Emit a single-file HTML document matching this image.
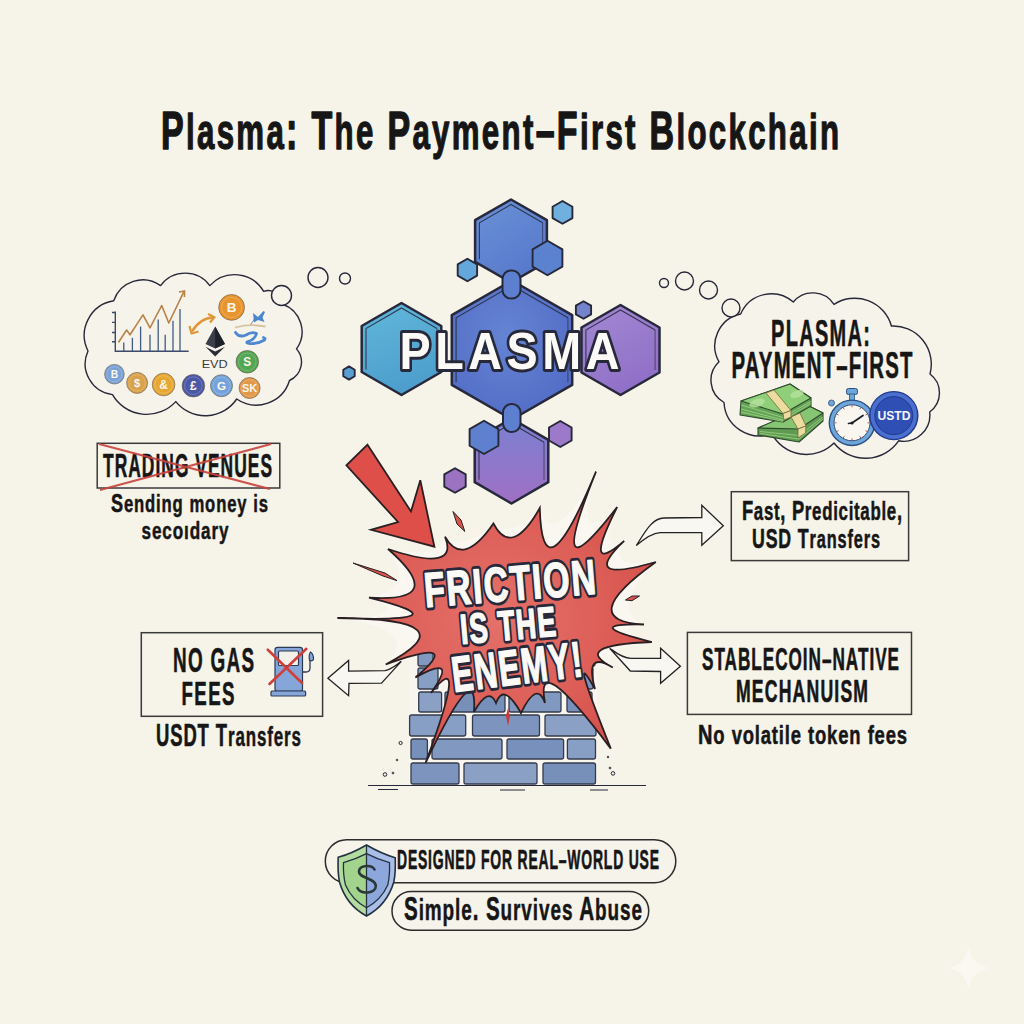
<!DOCTYPE html>
<html><head><meta charset="utf-8"><style>
html,body{margin:0;padding:0;background:#f6f3e9;overflow:hidden;}
svg{display:block;}
text{font-family:"Liberation Sans",sans-serif;font-weight:bold;}
</style></head><body>
<svg width="1024" height="1024" viewBox="0 0 1024 1024">
<rect width="1024" height="1024" fill="#f6f3e9"/>
<text transform="translate(161,148.5) scale(0.6228,1)" x="0" y="0" font-size="54.5" fill="#161616" textLength="1088.7" lengthAdjust="spacing" stroke="#161616" stroke-width="1.3" vector-effect="non-scaling-stroke" stroke-linejoin="round" >P<tspan font-size="50.14">lasma</tspan>: T<tspan font-size="50.14">he</tspan> P<tspan font-size="50.14">ayment</tspan>–F<tspan font-size="50.14">irst</tspan> B<tspan font-size="50.14">lockchain</tspan></text>
<path d="M113.7,300.8 A30.6,30.6 0 0 1 160.6,285.6 A30.5,30.5 0 0 1 209.8,285.6 A33.6,33.6 0 0 1 263.7,291.4 A13.8,13.8 0 0 1 282.0,304.0 A29.3,29.3 0 0 1 296.5,348.9 A20.1,20.1 0 0 1 289.5,380.5 A34.7,34.7 0 0 1 236.7,399.0 A37.8,37.8 0 0 1 175.8,401.6 A39.5,39.5 0 0 1 112.5,394.6 A31.0,31.0 0 0 1 88.0,351.0 A35.0,35.0 0 0 1 113.7,300.8 Z" fill="#f6f3ea" stroke="#27283a" stroke-width="1.4" stroke-linejoin="round"/>
<circle cx="281.5" cy="295.5" r="10" fill="#f6f3e9" stroke="#27283a" stroke-width="1.4"/>
<circle cx="318" cy="277.5" r="10" fill="#f6f3e9" stroke="#27283a" stroke-width="1.4"/>
<circle cx="345" cy="278.5" r="5.5" fill="#f6f3e9" stroke="#27283a" stroke-width="1.4"/>
<g stroke="#3b4a6b" stroke-width="1.4" fill="none"><path d="M115.3,311.4 V351.2 H188.7"/><path d="M112,312.5 h3.5 M112,322.4 h3.5 M112,332.5 h3.5 M112,341.8 h3.5"/></g>
<g stroke="#3f5a88" stroke-width="1.3"><line x1="123.8" y1="351" x2="123.8" y2="342.5"/><line x1="132.4" y1="351" x2="132.4" y2="337.8"/><line x1="140.6" y1="351" x2="140.6" y2="326.6"/><line x1="150" y1="351" x2="150" y2="334.8"/><line x1="158.2" y1="351" x2="158.2" y2="319.6"/><line x1="165.2" y1="351" x2="165.2" y2="334.8"/><line x1="173" y1="351" x2="173" y2="320.7"/><line x1="180" y1="351" x2="180" y2="309"/></g>
<path d="M118.4,342.5 L126.6,330 L130,334.8 L143,314.9 L150,327.8 L161.7,305.5 L168.8,323 L184,291.4" fill="none" stroke="#b98248" stroke-width="1.6" stroke-linejoin="round"/>
<path d="M179,292 L184.5,291 L184.5,297" fill="none" stroke="#b98248" stroke-width="1.6"/>
<path d="M192,331.5 Q200,318 213.5,317.5" fill="none" stroke="#e0973a" stroke-width="2.4"/><path d="M189.5,326 L191.5,333.5 L198.5,331.5 M208,314 L214.5,317.3 L210,322.5" fill="none" stroke="#e0973a" stroke-width="2.2" stroke-linejoin="round"/>
<path d="M215.2,326.6 L205.5,344 L215.2,348.6 L225,344 Z" fill="#3a3d4a"/><path d="M215.2,326.6 L215.2,348.6 L225,344 Z" fill="#1f2129"/><path d="M215.2,356.6 L205.5,346.8 L215.2,351.5 L225,346.8 Z" fill="#2a2c36"/>
<text x="214.7" y="367.6" font-size="10" fill="#3a3a3a" text-anchor="middle" textLength="26" lengthAdjust="spacingAndGlyphs" style="font-weight:normal">EVD</text>
<circle cx="231.6" cy="307.4" r="12.9" fill="#e8952e" stroke="#6b5a48" stroke-width="0.9" stroke-opacity="0.7"/><circle cx="231.6" cy="307.4" r="10.1" fill="none" stroke="#ffffff" stroke-opacity="0.25" stroke-width="0.8"/><text x="231.6" y="312.0" font-size="13.5" fill="#fbf6ea" text-anchor="middle">B</text>
<circle cx="247.3" cy="361.8" r="11.3" fill="#53a653" stroke="#6b5a48" stroke-width="0.9" stroke-opacity="0.7"/><circle cx="247.3" cy="361.8" r="8.8" fill="none" stroke="#ffffff" stroke-opacity="0.25" stroke-width="0.8"/><text x="247.3" y="365.9" font-size="11.9" fill="#fbf6ea" text-anchor="middle">S</text>
<circle cx="114.4" cy="374.2" r="9.8" fill="#79a2d6" stroke="#6b5a48" stroke-width="0.9" stroke-opacity="0.7"/><circle cx="114.4" cy="374.2" r="7.6" fill="none" stroke="#ffffff" stroke-opacity="0.25" stroke-width="0.8"/><text x="114.4" y="377.7" font-size="10.3" fill="#fbf6ea" text-anchor="middle">B</text>
<circle cx="137.1" cy="382.9" r="10.5" fill="#d9a24c" stroke="#6b5a48" stroke-width="0.9" stroke-opacity="0.7"/><circle cx="137.1" cy="382.9" r="8.2" fill="none" stroke="#ffffff" stroke-opacity="0.25" stroke-width="0.8"/><text x="137.1" y="386.7" font-size="11.0" fill="#fbf6ea" text-anchor="middle">$</text>
<circle cx="163.6" cy="384.5" r="11.3" fill="#e6a833" stroke="#6b5a48" stroke-width="0.9" stroke-opacity="0.7"/><circle cx="163.6" cy="384.5" r="8.8" fill="none" stroke="#ffffff" stroke-opacity="0.25" stroke-width="0.8"/><text x="163.6" y="388.6" font-size="11.9" fill="#fbf6ea" text-anchor="middle">&amp;</text>
<circle cx="193.4" cy="385.7" r="11.3" fill="#4b58a6" stroke="#6b5a48" stroke-width="0.9" stroke-opacity="0.7"/><circle cx="193.4" cy="385.7" r="8.8" fill="none" stroke="#ffffff" stroke-opacity="0.25" stroke-width="0.8"/><text x="193.4" y="389.8" font-size="11.9" fill="#fbf6ea" text-anchor="middle">£</text>
<circle cx="221.5" cy="385.7" r="11" fill="#73a3da" stroke="#6b5a48" stroke-width="0.9" stroke-opacity="0.7"/><circle cx="221.5" cy="385.7" r="8.6" fill="none" stroke="#ffffff" stroke-opacity="0.25" stroke-width="0.8"/><text x="221.5" y="389.7" font-size="11.6" fill="#fbf6ea" text-anchor="middle">G</text>
<circle cx="249.6" cy="388" r="10.5" fill="#e2984a" stroke="#6b5a48" stroke-width="0.9" stroke-opacity="0.7"/><circle cx="249.6" cy="388" r="8.2" fill="none" stroke="#ffffff" stroke-opacity="0.25" stroke-width="0.8"/><text x="249.6" y="391.8" font-size="11.0" fill="#fbf6ea" text-anchor="middle">SK</text>
<polygon points="253,313 258,317 263.5,311 265,312 262.5,317.5 264.5,322 258,320 254,322.5" fill="#4a86d0"/><path d="M250,325.5 L254.5,319" stroke="#6a6a6a" stroke-width="0.8"/><path d="M235,327.5 Q250,323.5 265.5,326.5" fill="none" stroke="#d6c3a2" stroke-width="1.8"/><path d="M235.5,332.5 Q239,338 246,335 Q252,331 256.5,333.5 Q255,339.5 248,341.5 Q245,343 250,343.5 Q258,344 264.5,340 Q266,338 263.5,337.5" fill="none" stroke="#4f88d0" stroke-width="2.8" stroke-linecap="round" stroke-linejoin="round"/>
<path d="M740.7,314.0 A33.4,33.4 0 0 1 793.3,302.0 A25.3,25.3 0 0 1 834.0,304.4 A38.0,38.0 0 0 1 891.4,326.0 A38.2,38.2 0 0 1 930.0,374.0 A23.6,23.6 0 0 1 929.7,412.0 A26.3,26.3 0 0 1 898.6,440.8 A40.1,40.1 0 0 1 834.0,443.0 A39.0,39.0 0 0 1 771.8,433.6 A35.4,35.4 0 0 1 724.0,402.5 A25.4,25.4 0 0 1 719.0,361.8 A32.5,32.5 0 0 1 740.7,314.0 Z" fill="#f6f3ea" stroke="#27283a" stroke-width="1.4" stroke-linejoin="round"/>
<circle cx="664" cy="283" r="4.5" fill="#f6f3e9" stroke="#27283a" stroke-width="1.4"/>
<circle cx="684.5" cy="281" r="9" fill="#f6f3e9" stroke="#27283a" stroke-width="1.4"/>
<circle cx="708.5" cy="290" r="9" fill="#f6f3e9" stroke="#27283a" stroke-width="1.4"/>
<circle cx="731" cy="308" r="9" fill="#f6f3e9" stroke="#27283a" stroke-width="1.4"/>
<text transform="translate(771,345.5) scale(0.5290,1)" x="0" y="0" font-size="37.8" fill="#161616" textLength="187.2" lengthAdjust="spacing" stroke="#161616" stroke-width="0.5" vector-effect="non-scaling-stroke" stroke-linejoin="round" >PLASMA:</text>
<text transform="translate(731.5,378) scale(0.5451,1)" x="0" y="0" font-size="37.4" fill="#161616" textLength="332.0" lengthAdjust="spacing" stroke="#161616" stroke-width="0.5" vector-effect="non-scaling-stroke" stroke-linejoin="round" >PAYMENT–FIRST</text>
<polygon points="758,428 809,406 823,413 823,421 799,442 758,435" fill="#5f9c51" stroke="#2e4a2c" stroke-width="1.1" stroke-linejoin="round"/>
<polygon points="758,428 809,406 823,413 799,429" fill="#86c571" stroke="#2e4a2c" stroke-width="1.1" stroke-linejoin="round"/>
<path d="M760,431.5 L799,435.5 L823,417 M760,433.5 L799,439 L823,419" fill="none" stroke="#9ed288" stroke-width="0.8"/>
<polygon points="741,401 790,384 811,398 811,406 783,422 740,415" fill="#64a355" stroke="#2e4a2c" stroke-width="1.1" stroke-linejoin="round"/>
<polygon points="741,401 790,384 811,398 783,414" fill="#8fcf7a" stroke="#2e4a2c" stroke-width="1.1" stroke-linejoin="round"/>
<path d="M741,405 L783,417.5 L811,401.5 M741,409 L783,420 L811,403.5 M741,412 L783,421.5" fill="none" stroke="#a2d68c" stroke-width="0.8"/>
<ellipse cx="757" cy="403" rx="8" ry="4" fill="#b5e09e" opacity="0.8" transform="rotate(-18 757 403)"/><ellipse cx="797" cy="394" rx="7" ry="3.5" fill="#b5e09e" opacity="0.8" transform="rotate(-18 797 394)"/>
<g fill="#ecdca0" stroke="#6f6a3a" stroke-width="0.8" stroke-linejoin="round"><polygon points="766,393 774,390 791,410.5 783,413.5"/><polygon points="783,413.5 791,410.5 791,417 784,420"/><polygon points="791,417 800,413 806,426 798,429"/><polygon points="798,429 806,426 805.5,433 798,438"/></g>
<circle cx="852" cy="422.8" r="22.7" fill="#6ea6d9" stroke="#2c4f80" stroke-width="1.4"/><circle cx="852" cy="422.8" r="18" fill="#f8f6ef" stroke="#2c4f80" stroke-width="1"/><rect x="846.5" y="388.5" width="11" height="6" rx="2" fill="#6ea6d9" stroke="#2c4f80" stroke-width="1"/><rect x="849.5" y="394" width="5" height="6" fill="#6ea6d9" stroke="#2c4f80" stroke-width="0.8"/><circle cx="831.5" cy="403" r="3" fill="#6ea6d9" stroke="#2c4f80" stroke-width="0.8"/><path d="M852,423 L863,415.5 M852,423 L848.5,423.5" stroke="#1c1c24" stroke-width="1.7" stroke-linecap="round"/><circle cx="852" cy="423" r="1.6" fill="#1c1c24"/><line x1="867.5" y1="422.8" x2="869.5" y2="422.8" stroke="#c04a40" stroke-width="0.9"/><line x1="865.4" y1="430.6" x2="867.2" y2="431.6" stroke="#c04a40" stroke-width="0.9"/><line x1="859.8" y1="436.2" x2="860.8" y2="438.0" stroke="#c04a40" stroke-width="0.9"/><line x1="852.0" y1="438.3" x2="852.0" y2="440.3" stroke="#c04a40" stroke-width="0.9"/><line x1="844.2" y1="436.2" x2="843.2" y2="438.0" stroke="#c04a40" stroke-width="0.9"/><line x1="838.6" y1="430.6" x2="836.8" y2="431.6" stroke="#c04a40" stroke-width="0.9"/><line x1="836.5" y1="422.8" x2="834.5" y2="422.8" stroke="#c04a40" stroke-width="0.9"/><line x1="838.6" y1="415.1" x2="836.8" y2="414.1" stroke="#c04a40" stroke-width="0.9"/><line x1="844.2" y1="409.4" x2="843.2" y2="407.6" stroke="#c04a40" stroke-width="0.9"/><line x1="852.0" y1="407.3" x2="852.0" y2="405.3" stroke="#c04a40" stroke-width="0.9"/><line x1="859.8" y1="409.4" x2="860.8" y2="407.6" stroke="#c04a40" stroke-width="0.9"/><line x1="865.4" y1="415.1" x2="867.2" y2="414.1" stroke="#c04a40" stroke-width="0.9"/>
<circle cx="893.8" cy="415.6" r="24" fill="#4a6fcf" stroke="#233a8a" stroke-width="1.4"/><circle cx="893.8" cy="415.6" r="19" fill="#2f4fb5" stroke="#203a8f" stroke-width="1"/>
<text x="894" y="420" font-size="12.2" fill="#f4f4fa" text-anchor="middle" textLength="33" lengthAdjust="spacingAndGlyphs" >USTD</text>
<defs><linearGradient id="gt" x1="0.2" y1="0" x2="0.8" y2="1"><stop offset="0" stop-color="#6890d6"/><stop offset="1" stop-color="#5676ca"/></linearGradient><linearGradient id="gl" x1="0.3" y1="0" x2="0.6" y2="1"><stop offset="0" stop-color="#5fb6da"/><stop offset="1" stop-color="#4c9ccb"/></linearGradient><radialGradient id="gc" cx="0.45" cy="0.4" r="0.65"><stop offset="0" stop-color="#6584d3"/><stop offset="1" stop-color="#526cc6"/></radialGradient><linearGradient id="gr" x1="0.2" y1="0" x2="0.7" y2="1"><stop offset="0" stop-color="#a287d3"/><stop offset="1" stop-color="#8e6ec6"/></linearGradient></defs>
<polygon points="511.0,199.5 546.9,220.2 546.9,261.8 511.0,282.5 475.1,261.8 475.1,220.2" fill="url(#gt)" stroke="#27283a" stroke-width="2.5" stroke-linejoin="round"/><polyline points="479.4,259.2 479.4,222.8 511.0,204.5 542.6,222.8" fill="none" stroke="#27283a" stroke-width="1.1" opacity="0.85"/><polyline points="542.6,222.8 542.6,259.2" fill="none" stroke="#27283a" stroke-width="1.1" opacity="0.6"/>
<polygon points="562.5,201.0 572.4,206.7 572.4,218.1 562.5,223.8 552.6,218.1 552.6,206.7" fill="#70b0de" stroke="#27283a" stroke-width="1.9" stroke-linejoin="round"/>
<polygon points="547.5,240.8 562.4,249.4 562.4,266.6 547.5,275.2 532.6,266.6 532.6,249.4" fill="#5b82cf" stroke="#27283a" stroke-width="1.9" stroke-linejoin="round"/>
<polygon points="467.4,258.8 477.1,264.4 477.1,275.6 467.4,281.2 457.7,275.6 457.7,264.4" fill="#64a7da" stroke="#27283a" stroke-width="1.9" stroke-linejoin="round"/>
<polygon points="401.5,303.0 441.3,326.0 441.3,372.0 401.5,395.0 361.7,372.0 361.7,326.0" fill="url(#gl)" stroke="#27283a" stroke-width="2.5" stroke-linejoin="round"/><polyline points="366.0,369.5 366.0,328.5 401.5,308.0 437.0,328.5" fill="none" stroke="#27283a" stroke-width="1.1" opacity="0.85"/><polyline points="437.0,328.5 437.0,369.5" fill="none" stroke="#27283a" stroke-width="1.1" opacity="0.6"/>
<polygon points="620.5,305.0 659.5,327.5 659.5,372.5 620.5,395.0 581.5,372.5 581.5,327.5" fill="url(#gr)" stroke="#27283a" stroke-width="2.5" stroke-linejoin="round"/><polyline points="585.9,370.0 585.9,330.0 620.5,310.0 655.1,330.0" fill="none" stroke="#27283a" stroke-width="1.1" opacity="0.85"/><polyline points="655.1,330.0 655.1,370.0" fill="none" stroke="#27283a" stroke-width="1.1" opacity="0.6"/>
<polygon points="512.0,280.5 572.2,315.2 572.2,384.8 512.0,419.5 451.8,384.8 451.8,315.2" fill="url(#gc)" stroke="#27283a" stroke-width="2.5" stroke-linejoin="round"/><polyline points="456.1,382.2 456.1,317.8 512.0,285.5 567.9,317.8" fill="none" stroke="#27283a" stroke-width="1.1" opacity="0.85"/><polyline points="567.9,317.8 567.9,382.2" fill="none" stroke="#27283a" stroke-width="1.1" opacity="0.6"/>
<polygon points="583.5,301.2 591.1,305.6 591.1,314.4 583.5,318.8 575.9,314.4 575.9,305.6" fill="#7384cc" stroke="#27283a" stroke-width="1.9" stroke-linejoin="round"/>
<polygon points="349.0,366.4 354.7,369.7 354.7,376.3 349.0,379.6 343.3,376.3 343.3,369.7" fill="#5b9fd2" stroke="#27283a" stroke-width="1.9" stroke-linejoin="round"/>
<defs><linearGradient id="gb" x1="0" y1="0" x2="0" y2="1"><stop offset="0" stop-color="#7a80d2"/><stop offset="1" stop-color="#a070c4"/></linearGradient></defs>
<polygon points="511.5,418.5 548.3,439.8 548.3,482.2 511.5,503.5 474.7,482.2 474.7,439.8" fill="url(#gb)" stroke="#27283a" stroke-width="2.5" stroke-linejoin="round"/><polyline points="479.0,479.8 479.0,442.2 511.5,423.5 544.0,442.2" fill="none" stroke="#27283a" stroke-width="1.1" opacity="0.85"/><polyline points="544.0,442.2 544.0,479.8" fill="none" stroke="#27283a" stroke-width="1.1" opacity="0.6"/>
<polygon points="484.0,420.8 498.4,429.1 498.4,445.7 484.0,454.0 469.6,445.7 469.6,429.1" fill="#5e80cf" stroke="#27283a" stroke-width="1.9" stroke-linejoin="round"/>
<polygon points="560.3,421.0 571.6,427.5 571.6,440.5 560.3,447.0 549.0,440.5 549.0,427.5" fill="#9d79c9" stroke="#27283a" stroke-width="1.9" stroke-linejoin="round"/>
<polygon points="455.0,468.2 465.7,474.4 465.7,486.6 455.0,492.8 444.3,486.6 444.3,474.4" fill="#9c73c3" stroke="#27283a" stroke-width="1.9" stroke-linejoin="round"/>
<rect x="502.5" y="270.5" width="18" height="28" rx="8.5" fill="#5d7fcf" stroke="#27283a" stroke-width="2"/>
<rect x="503" y="404" width="17.5" height="28" rx="8.5" fill="#5d7fcf" stroke="#27283a" stroke-width="2"/>
<text transform="translate(399.5,368.5) scale(0.89,1)" x="0" y="0" font-size="52.5" fill="#fbfaf6" textLength="247.2" lengthAdjust="spacing" stroke="#27283a" stroke-width="5.6" vector-effect="non-scaling-stroke" paint-order="stroke" stroke-linejoin="round">PLASMA</text>
<path d="M388.0,549.0 Q440.1,559.5 445.0,536.7 Q465.7,550.9 493.4,523.4 Q513.7,539.1 539.8,508.0 Q553.7,551.6 596.0,471.7 Q571.8,551.7 617.2,507.0 Q599.0,553.7 624.2,540.9 Q605.9,569.7 655.8,562.0 Q608.0,608.4 644.0,624.5 Q609.3,627.9 651.8,642.0 Q597.9,649.5 612.8,667.5 Q593.0,662.6 595.0,689.0 Q583.2,675.0 610.8,748.6 Q553.8,682.0 545.0,703.0 Q535.2,692.6 521.0,713.0 Q505.8,693.7 496.0,703.0 Q487.2,695.4 474.0,711.8 Q465.2,690.8 425.6,762.8 Q451.1,681.8 431.0,693.0 Q443.2,667.4 415.4,677.4 Q436.2,651.5 385.7,664.5 Q422.8,628.9 337.4,618.0 Q417.6,616.0 369.0,597.6 Q417.5,589.5 388.0,549.0 Z" fill="#f9f7f0"/>
<rect x="409" y="652" width="188" height="133" fill="#f8f6ef"/>
<rect x="418" y="652" width="15" height="14" rx="2" fill="#8199c1" stroke="#353b4c" stroke-width="1.3"/>
<rect x="578" y="652" width="17" height="14" rx="2" fill="#7891bc" stroke="#353b4c" stroke-width="1.3"/>
<rect x="418" y="668" width="20" height="21" rx="2" fill="#889fc5" stroke="#353b4c" stroke-width="1.3"/>
<rect x="576" y="668" width="17" height="21" rx="2" fill="#7d95be" stroke="#353b4c" stroke-width="1.3"/>
<rect x="418.7" y="692" width="22.900000000000034" height="20" rx="2" fill="#8aa0c5" stroke="#353b4c" stroke-width="1.3"/>
<rect x="445" y="692" width="60" height="20" rx="2" fill="#7690ba" stroke="#353b4c" stroke-width="1.3"/>
<rect x="509" y="692" width="52" height="20" rx="2" fill="#8199c1" stroke="#353b4c" stroke-width="1.3"/>
<rect x="567" y="692" width="25" height="20" rx="2" fill="#7891bc" stroke="#353b4c" stroke-width="1.3"/>
<rect x="409.6" y="715" width="56.099999999999966" height="21" rx="2" fill="#889fc5" stroke="#353b4c" stroke-width="1.3"/>
<rect x="472.5" y="715" width="67.0" height="21" rx="2" fill="#7d95be" stroke="#353b4c" stroke-width="1.3"/>
<rect x="545" y="715" width="51" height="21" rx="2" fill="#8aa0c5" stroke="#353b4c" stroke-width="1.3"/>
<rect x="411" y="739" width="16.399999999999977" height="20" rx="2" fill="#7690ba" stroke="#353b4c" stroke-width="1.3"/>
<rect x="432" y="739" width="70" height="20" rx="2" fill="#8199c1" stroke="#353b4c" stroke-width="1.3"/>
<rect x="507" y="739" width="56.60000000000002" height="20" rx="2" fill="#7891bc" stroke="#353b4c" stroke-width="1.3"/>
<rect x="567.4" y="739" width="28.100000000000023" height="20" rx="2" fill="#889fc5" stroke="#353b4c" stroke-width="1.3"/>
<rect x="411" y="763" width="48" height="21" rx="2" fill="#7d95be" stroke="#353b4c" stroke-width="1.3"/>
<rect x="464" y="763" width="73" height="21" rx="2" fill="#8aa0c5" stroke="#353b4c" stroke-width="1.3"/>
<rect x="543" y="763" width="52.5" height="21" rx="2" fill="#7690ba" stroke="#353b4c" stroke-width="1.3"/>
<path d="M368,785.5 H646 M378,789.5 h20 M500,790 h25 M590,790 h18" stroke="#27283a" stroke-width="1.2"/>
<circle cx="400.6" cy="743" r="1.6" fill="none" stroke="#27283a" stroke-width="1"/>
<circle cx="385" cy="774.5" r="1.8" fill="none" stroke="#27283a" stroke-width="1"/>
<circle cx="613" cy="773.4" r="1.8" fill="none" stroke="#27283a" stroke-width="1"/>
<circle cx="393" cy="773" r="0.9" fill="none" stroke="#27283a" stroke-width="1"/>
<circle cx="397" cy="760" r="0.8" fill="none" stroke="#27283a" stroke-width="1"/>
<circle cx="608" cy="757" r="0.8" fill="none" stroke="#27283a" stroke-width="1"/>
<circle cx="610" cy="768" r="0.9" fill="none" stroke="#27283a" stroke-width="1"/>
<defs><radialGradient id="rg" cx="0.5" cy="0.5" r="0.55"><stop offset="0" stop-color="#e4716a"/><stop offset="0.6" stop-color="#dd5f58"/><stop offset="1" stop-color="#d4504a"/></radialGradient></defs>
<path d="M388.0,549.0 Q459.5,573.1 445.0,536.7 Q462.8,568.0 493.4,523.4 Q511.4,558.3 539.8,508.0 Q542.1,602.1 596.0,471.7 Q543.4,602.6 617.2,507.0 Q581.3,578.0 624.2,540.9 Q578.0,584.5 655.8,562.0 Q573.7,620.8 644.0,624.5 Q577.7,623.5 651.8,642.0 Q569.7,645.2 612.8,667.5 Q584.1,649.8 595.0,689.0 Q567.1,639.2 610.8,748.6 Q534.1,646.2 545.0,703.0 Q537.0,680.0 521.0,713.0 Q503.5,682.0 496.0,703.0 Q489.0,685.6 474.0,711.8 Q477.8,652.7 425.6,762.8 Q469.7,644.1 431.0,693.0 Q459.6,652.8 415.4,677.4 Q465.5,635.6 385.7,664.5 Q472.9,618.8 337.4,618.0 Q470.2,622.8 369.0,597.6 Q449.5,602.7 388.0,549.0 Z" fill="url(#rg)" stroke="#2a1f22" stroke-width="1.8" stroke-linejoin="miter" stroke-miterlimit="4"/>
<polygon points="353,563 385,573 397,580.6 383,576" fill="#d9534f" stroke="#2a1f22" stroke-width="1"/>
<polygon points="453,511.5 461,520 464.8,531.4 457,524" fill="#d9534f" stroke="#2a1f22" stroke-width="1"/>
<polygon points="625.4,600 632,596 639.5,596 632,600.7" fill="#d9534f" stroke="#2a1f22" stroke-width="1"/>
<polygon points="508,708 510,716 508,726 506,716" fill="#c83a36"/>
<polygon points="367.5,444.7 411,511.5 420.3,480.3 434.4,546.7 371,529.8 398,522 346.4,465.3" fill="#dd4f48" stroke="#2a1f22" stroke-width="1.8" stroke-linejoin="miter"/>
<g transform="rotate(-4.6 510 585) translate(424,600.5) scale(0.6914,1)"><text x="0" y="0" font-size="49" textLength="248.8" lengthAdjust="spacing" fill="#27283a" stroke="#27283a" stroke-width="6.0" vector-effect="non-scaling-stroke" stroke-linejoin="round">FRICTION</text><text x="0" y="0" font-size="49" textLength="248.8" lengthAdjust="spacing" fill="#fbfaf6" stroke="#fbfaf6" stroke-width="1.2" vector-effect="non-scaling-stroke" stroke-linejoin="round">FRICTION</text></g>
<g transform="rotate(-5 507 626) translate(460,640) scale(0.6596,1)"><text x="0" y="0" font-size="42" textLength="145.5" lengthAdjust="spacing" fill="#27283a" stroke="#27283a" stroke-width="6.0" vector-effect="non-scaling-stroke" stroke-linejoin="round">IS THE</text><text x="0" y="0" font-size="42" textLength="145.5" lengthAdjust="spacing" fill="#fbfaf6" stroke="#fbfaf6" stroke-width="1.2" vector-effect="non-scaling-stroke" stroke-linejoin="round">IS THE</text></g>
<g transform="rotate(-7 517 664) translate(451,684) scale(0.6265,1)"><text x="0" y="0" font-size="50" textLength="209.1" lengthAdjust="spacing" fill="#27283a" stroke="#27283a" stroke-width="6.0" vector-effect="non-scaling-stroke" stroke-linejoin="round">ENEMY!</text><text x="0" y="0" font-size="50" textLength="209.1" lengthAdjust="spacing" fill="#fbfaf6" stroke="#fbfaf6" stroke-width="1.2" vector-effect="non-scaling-stroke" stroke-linejoin="round">ENEMY!</text></g>
<path d="M636.3,545.6 C645,532 652,518 664,518 L701.8,517.5 L701.8,505.3 L723.3,525.8 L701.8,545.3 L701.8,532.6 L660,532.6 C652,533 645,538 636.3,545.6 Z" fill="#f9f7f1" stroke="#222" stroke-width="1.3" stroke-linejoin="miter"/>
<path d="M609.7,648.2 C615,652 622,658.3 631,658.3 L660.6,658.3 L660.6,648.2 L680.4,666.2 L660.6,683.3 L660.6,671.5 L630.3,671 Z" fill="#f9f7f1" stroke="#222" stroke-width="1.3" stroke-linejoin="miter"/>
<path d="M327.9,678.3 L348.6,660.4 L348.6,671.1 L385,670.7 C392,669 396,665 401.3,661.4 L381.5,683.2 L349,683.4 L348.6,695.7 Z" fill="#f9f7f1" stroke="#222" stroke-width="1.3" stroke-linejoin="miter"/>
<rect x="97.2" y="443.3" width="182.60000000000002" height="44.69999999999999" fill="none" stroke="#3a3a3a" stroke-width="1.5"/>
<text transform="translate(103,477.3) scale(0.5267,1)" x="0" y="0" font-size="33" fill="#161616" textLength="320.9" lengthAdjust="spacing" stroke="#161616" stroke-width="0.5" vector-effect="non-scaling-stroke" stroke-linejoin="round" >TRADING VENUES</text>
<path d="M99,444 L270,489 M100,490 L271,444" stroke="#c9433e" stroke-width="2.2" opacity="0.9"/>
<text transform="translate(111,511.6) scale(0.6839,1)" x="0" y="0" font-size="26.5" fill="#161616" textLength="229.6" lengthAdjust="spacing" stroke="#161616" stroke-width="0.5" vector-effect="non-scaling-stroke" stroke-linejoin="round" >S<tspan font-size="24.38">ending</tspan> <tspan font-size="24.38">money</tspan> <tspan font-size="24.38">is</tspan></text>
<text transform="translate(141.5,538.5) scale(0.7031,1)" x="0" y="0" font-size="26.5" fill="#161616" textLength="123.7" lengthAdjust="spacing" stroke="#161616" stroke-width="0.5" vector-effect="non-scaling-stroke" stroke-linejoin="round" ><tspan font-size="24.38">secoıdary</tspan></text>
<rect x="141.3" y="632.7" width="181.3" height="83.59999999999991" fill="none" stroke="#3a3a3a" stroke-width="1.5"/>
<text transform="translate(173,672.4) scale(0.5397,1)" x="0" y="0" font-size="35" fill="#161616" textLength="150.1" lengthAdjust="spacing" stroke="#161616" stroke-width="0.5" vector-effect="non-scaling-stroke" stroke-linejoin="round" >NO GAS</text>
<text transform="translate(181.5,705) scale(0.5491,1)" x="0" y="0" font-size="34" fill="#161616" textLength="96.5" lengthAdjust="spacing" stroke="#161616" stroke-width="0.5" vector-effect="non-scaling-stroke" stroke-linejoin="round" >FEES</text>
<text transform="translate(156,746) scale(0.6040,1)" x="0" y="0" font-size="30.5" fill="#161616" textLength="240.1" lengthAdjust="spacing" stroke="#161616" stroke-width="0.5" vector-effect="non-scaling-stroke" stroke-linejoin="round" >USDT T<tspan font-size="28.06">ransfers</tspan></text>
<g stroke="#2b3a55" stroke-width="1.2"><rect x="275" y="647.4" width="27.5" height="44" rx="2.5" fill="#86a6da"/><rect x="278.5" y="651" width="20" height="14.5" rx="1" fill="#f3f1ea"/><rect x="271" y="691" width="34.6" height="5" rx="1" fill="#86a6da"/><path d="M302.5,672 h3.5 q4,0 4,-4 v-8" fill="none" stroke-width="1.3"/><path d="M309.5,660 q-1,-5 1,-8 q3,2 3,7 q-1,3 -4,1 z" fill="#86a6da"/></g><path d="M267.8,649.7 L302,683 M306.4,648.8 L269.5,684" stroke="#d0403a" stroke-width="2.6" stroke-linecap="round"/>
<rect x="731.3" y="491.7" width="177.30000000000007" height="68.90000000000003" fill="none" stroke="#3a3a3a" stroke-width="1.5"/>
<text transform="translate(742,520.4) scale(0.6779,1)" x="0" y="0" font-size="27" fill="#161616" textLength="236.0" lengthAdjust="spacing" stroke="#161616" stroke-width="0.5" vector-effect="non-scaling-stroke" stroke-linejoin="round" >F<tspan font-size="24.84">ast</tspan>, P<tspan font-size="24.84">redicitable</tspan>,</text>
<text transform="translate(752,548) scale(0.6343,1)" x="0" y="0" font-size="28" fill="#161616" textLength="201.8" lengthAdjust="spacing" stroke="#161616" stroke-width="0.5" vector-effect="non-scaling-stroke" stroke-linejoin="round" >USD T<tspan font-size="25.76">ransfers</tspan></text>
<rect x="687.4" y="632.4" width="224.10000000000002" height="82.0" fill="none" stroke="#3a3a3a" stroke-width="1.5"/>
<text transform="translate(702,670) scale(0.5529,1)" x="0" y="0" font-size="31" fill="#161616" textLength="356.3" lengthAdjust="spacing" stroke="#161616" stroke-width="0.5" vector-effect="non-scaling-stroke" stroke-linejoin="round" >STABLECOIN–NATIVE</text>
<text transform="translate(736,702) scale(0.5687,1)" x="0" y="0" font-size="31" fill="#161616" textLength="232.1" lengthAdjust="spacing" stroke="#161616" stroke-width="0.5" vector-effect="non-scaling-stroke" stroke-linejoin="round" >MECHANUISM</text>
<text transform="translate(698,743.7) scale(0.7297,1)" x="0" y="0" font-size="27.5" fill="#161616" textLength="286.4" lengthAdjust="spacing" stroke="#161616" stroke-width="0.5" vector-effect="non-scaling-stroke" stroke-linejoin="round" >N<tspan font-size="25.30">o</tspan> <tspan font-size="25.30">volatile</tspan> <tspan font-size="25.30">token</tspan> <tspan font-size="25.30">fees</tspan></text>
<rect x="325.3" y="839.8" width="350.5" height="42.9" rx="21.4" fill="#f6f3ea" stroke="#2c2c2c" stroke-width="1.5"/>
<rect x="392" y="891.5" width="256.7" height="38.7" rx="19.3" fill="#f6f3ea" stroke="#2c2c2c" stroke-width="1.5"/>
<text transform="translate(397,869.4) scale(0.5225,1)" x="0" y="0" font-size="26.7" fill="#161616" textLength="501.5" lengthAdjust="spacing" stroke="#161616" stroke-width="0.5" vector-effect="non-scaling-stroke" stroke-linejoin="round" >DESIGNED FOR REAL–WORLD USE</text>
<text transform="translate(404,919.5) scale(0.6245,1)" x="0" y="0" font-size="33" fill="#161616" textLength="381.1" lengthAdjust="spacing" stroke="#161616" stroke-width="0.5" vector-effect="non-scaling-stroke" stroke-linejoin="round" >S<tspan font-size="30.36">imple</tspan>. S<tspan font-size="30.36">urvives</tspan> A<tspan font-size="30.36">buse</tspan></text>
<defs><clipPath id="sl"><rect x="330" y="840" width="36.5" height="80"/></clipPath><clipPath id="sr"><rect x="366.5" y="840" width="40" height="80"/></clipPath></defs>
<path d="M366.5,845 Q352,853.5 338.2,857.3 Q337.5,872 339.5,882 Q346,905 366.5,916 Q387,905 393.8,882 Q395.8,872 395.2,857.7 Q381,853.5 366.5,845 Z" fill="#b3dc9f" clip-path="url(#sl)"/><path d="M366.5,845 Q352,853.5 338.2,857.3 Q337.5,872 339.5,882 Q346,905 366.5,916 Q387,905 393.8,882 Q395.8,872 395.2,857.7 Q381,853.5 366.5,845 Z" fill="#a9bfe8" clip-path="url(#sr)"/>
<path d="M366.5,853.6 Q355,859.5 343.5,862.6 Q343,875 345.5,885 Q352,900 366.5,907.7 Q381,900 387.8,885 Q390,875 389.5,862.6 Q378,859.5 366.5,853.6 Z" fill="#a2d48d" clip-path="url(#sl)"/><path d="M366.5,853.6 Q355,859.5 343.5,862.6 Q343,875 345.5,885 Q352,900 366.5,907.7 Q381,900 387.8,885 Q390,875 389.5,862.6 Q378,859.5 366.5,853.6 Z" fill="#8da6dc" clip-path="url(#sr)"/>
<path d="M366.5,845 Q352,853.5 338.2,857.3 Q337.5,872 339.5,882 Q346,905 366.5,916 Q387,905 393.8,882 Q395.8,872 395.2,857.7 Q381,853.5 366.5,845 Z" fill="none" stroke="#25313f" stroke-width="1.6"/>
<path d="M366.5,853.6 Q355,859.5 343.5,862.6 Q343,875 345.5,885 Q352,900 366.5,907.7 Q381,900 387.8,885 Q390,875 389.5,862.6 Q378,859.5 366.5,853.6 Z" fill="none" stroke="#25313f" stroke-width="1.3"/>
<line x1="366.5" y1="845" x2="366.5" y2="916" stroke="#25313f" stroke-width="1.3"/>
<path d="M374.5,869.5 C372,864.5 359.5,864.5 359,871.5 C358.5,878.5 375.5,877.5 375.8,886 C376,893.5 361,895 357.5,888" fill="none" stroke="#2a3838" stroke-width="2.6" stroke-linecap="round"/>
<path d="M968.4,946 Q971,965 990,968 Q971,971 968.4,990 Q966,971 947,968 Q966,965 968.4,946 Z" fill="#fdfcf8" opacity="0.55"/>
</svg>
</body></html>
